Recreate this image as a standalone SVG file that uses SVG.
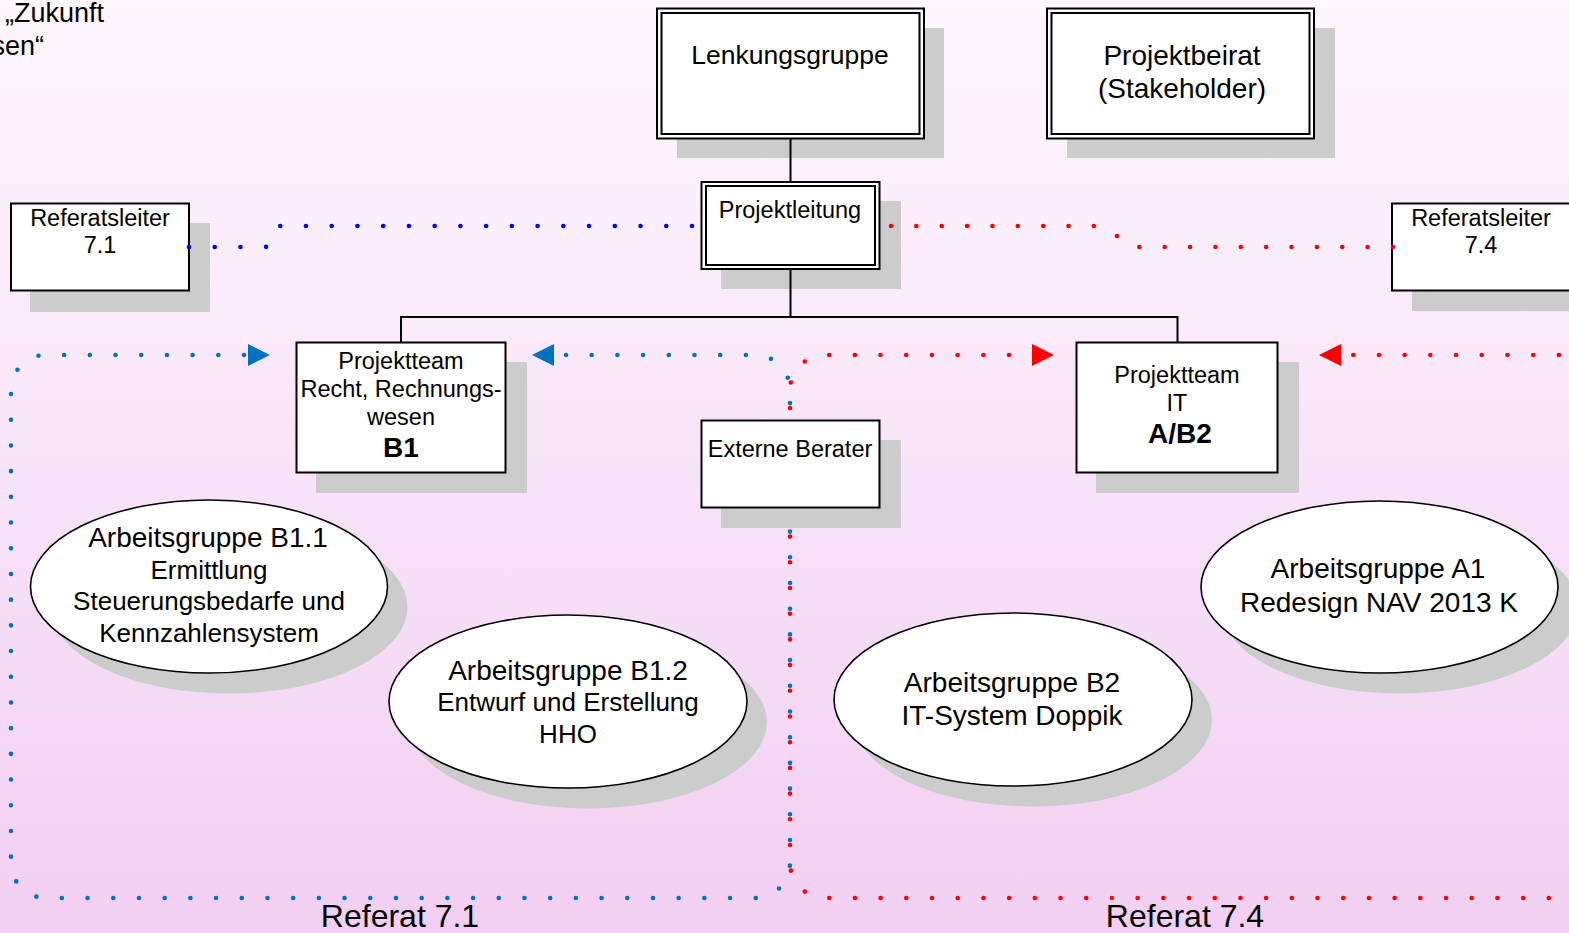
<svg xmlns="http://www.w3.org/2000/svg" width="1569" height="933" viewBox="0 0 1569 933">
<defs>
<linearGradient id="bg" x1="0" y1="0" x2="0" y2="1">
<stop offset="0" stop-color="#fdf8fd"/>
<stop offset="1" stop-color="#f2cff2"/>
</linearGradient>
<marker id="arrB" viewBox="0 0 22 22" refX="0" refY="11" markerWidth="22" markerHeight="22" markerUnits="userSpaceOnUse" orient="auto-start-reverse"><path d="M0,0 L22,11 L0,22 z" fill="#0070c0"/></marker>
<marker id="arrR" viewBox="0 0 22 22" refX="0" refY="11" markerWidth="22" markerHeight="22" markerUnits="userSpaceOnUse" orient="auto-start-reverse"><path d="M0,0 L22,11 L0,22 z" fill="#ff0000"/></marker>
<style>
text{font-family:"Liberation Sans",Arial,sans-serif;fill:#000;text-anchor:middle}
.sh{fill:#cccccc;stroke:none}
.box{fill:#fff;stroke:#000;stroke-width:2}
.ell{fill:#fff;stroke:#000;stroke-width:1.6}
.tree{fill:none;stroke:#000;stroke-width:2}
.dot{fill:none;stroke-width:4.6;stroke-linecap:round}
.t23{font-size:23.5px}
.t26{font-size:26px}
.t28{font-size:28px}
.b{font-weight:bold;font-size:28px}
</style>
</defs>
<rect x="0" y="0" width="1569" height="933" fill="url(#bg)"/>

<g id="title-fragment">
<text x="104" y="22" style="font-size:27px;text-anchor:end">„Zukunft</text>
<text x="44" y="55" style="font-size:27px;text-anchor:end">sen“</text>
</g>

<g id="lenkungsgruppe">
<rect class="sh" x="677" y="28" width="267" height="130"/>
<rect class="box" x="657" y="8.5" width="267" height="130"/>
<rect class="box" x="661.5" y="13" width="258" height="121"/>
<text x="790" y="64" style="font-size:26.5px">Lenkungsgruppe</text>
</g>

<g id="projektbeirat">
<rect class="sh" x="1067" y="28" width="268" height="130"/>
<rect class="box" x="1047" y="8.5" width="267" height="130"/>
<rect class="box" x="1051.5" y="13" width="258" height="121"/>
<text class="t28" x="1182" y="65">Projektbeirat</text>
<text class="t28" x="1182" y="98">(Stakeholder)</text>
</g>

<g id="projektleitung">
<rect class="sh" x="721" y="201" width="180" height="88"/>
<rect class="box" x="701.5" y="182" width="178" height="87"/>
<rect class="box" x="706" y="186" width="169" height="79"/>
<text class="t23" x="790" y="218">Projektleitung</text>
</g>

<g id="referatsleiter-71">
<rect class="sh" x="30" y="223" width="180" height="89"/>
<rect class="box" x="11" y="203.5" width="178" height="87"/>
<text class="t23" x="100" y="226">Referatsleiter</text>
<text class="t23" x="100" y="253">7.1</text>
</g>

<g id="referatsleiter-74">
<rect class="sh" x="1412" y="223" width="180" height="88"/>
<rect class="box" x="1392" y="203.5" width="178" height="87"/>
<text class="t23" x="1481" y="226">Referatsleiter</text>
<text class="t23" x="1481" y="253">7.4</text>
</g>

<g id="projektteam-b1">
<rect class="sh" x="316" y="362" width="211" height="131"/>
<rect class="box" x="296.5" y="342.5" width="209" height="130"/>
<text class="t23" x="401" y="369">Projektteam</text>
<text class="t23" x="401" y="397">Recht, Rechnungs-</text>
<text class="t23" x="401" y="425">wesen</text>
<text class="b" x="401" y="457">B1</text>
</g>

<g id="projektteam-ab2">
<rect class="sh" x="1096" y="362" width="203" height="131"/>
<rect class="box" x="1076.5" y="342.5" width="201" height="130"/>
<text class="t23" x="1177" y="383">Projektteam</text>
<text class="t23" x="1177" y="411">IT</text>
<text class="b" x="1180" y="443">A/B2</text>
</g>

<g id="ag-b11">
<ellipse class="sh" cx="229" cy="607" rx="178.5" ry="86.5"/>
<ellipse class="ell" cx="209" cy="586.5" rx="178.5" ry="86.5"/>
<text class="t28" x="208" y="547">Arbeitsgruppe B1.1</text>
<text class="t26" x="209" y="579">Ermittlung</text>
<text class="t26" x="209" y="610">Steuerungsbedarfe und</text>
<text class="t26" x="209" y="642">Kennzahlensystem</text>
</g>

<g id="ag-b12">
<ellipse class="sh" cx="588" cy="722" rx="179" ry="86.5"/>
<ellipse class="ell" cx="568" cy="701.5" rx="179" ry="86.5"/>
<text class="t28" x="568" y="680">Arbeitsgruppe B1.2</text>
<text class="t26" x="568" y="711">Entwurf und Erstellung</text>
<text class="t26" x="568" y="743">HHO</text>
</g>

<g id="ag-b2">
<ellipse class="sh" cx="1033" cy="720" rx="179" ry="86.5"/>
<ellipse class="ell" cx="1013" cy="699.5" rx="179" ry="86.5"/>
<text class="t28" x="1012" y="692">Arbeitsgruppe B2</text>
<text class="t28" x="1012" y="725">IT-System Doppik</text>
</g>

<g id="ag-a1">
<ellipse class="sh" cx="1399.5" cy="607.5" rx="178.5" ry="86"/>
<ellipse class="ell" cx="1379.5" cy="587" rx="178.5" ry="86"/>
<text class="t28" x="1378" y="578">Arbeitsgruppe A1</text>
<text class="t28" x="1379" y="612">Redesign NAV 2013 K</text>
</g>

<g id="connectors">
<path class="tree" d="M790.5,138 V182"/>
<path class="tree" d="M790.5,269 V317 M401,342 V317 H1177.5 V342"/>
<path class="dot" stroke="#0000ff" stroke-dasharray="0 25.735" d="M189,247 H266 L279,226 H693"/>
<path class="dot" stroke="#ff0000" stroke-dasharray="0 25.365" d="M891,226 H1097 L1117,236 L1136,247 H1394"/>
<path class="dot" stroke="#0070c0" stroke-dasharray="0 25.7" stroke-dashoffset="13.7" marker-start="url(#arrB)" marker-end="url(#arrB)" d="M554,355 H755 A35,35 0 0 1 790,390 V863 A35,35 0 0 1 755,898 H46 A35,35 0 0 1 11,863 V390 A35,35 0 0 1 46,355 H248"/>
<path class="dot" stroke="#ff0000" stroke-dasharray="0 25.7" stroke-dashoffset="2.7" marker-start="url(#arrR)" marker-end="url(#arrR)" d="M1032,355 H825 A35,35 0 0 0 790,390 V863 A35,35 0 0 0 825,898 H1558 A35,35 0 0 0 1593,863 V390 A35,35 0 0 0 1558,355 H1341"/>
</g>

<g id="externe-berater">
<rect class="sh" x="721" y="440" width="180" height="88"/>
<rect class="box" x="701.5" y="420.5" width="178" height="87"/>
<text class="t23" x="790" y="457">Externe Berater</text>
</g>

<g id="labels">
<text x="400" y="927" style="font-size:32px">Referat 7.1</text>
<text x="1185" y="927" style="font-size:32px">Referat 7.4</text>
</g>
</svg>
